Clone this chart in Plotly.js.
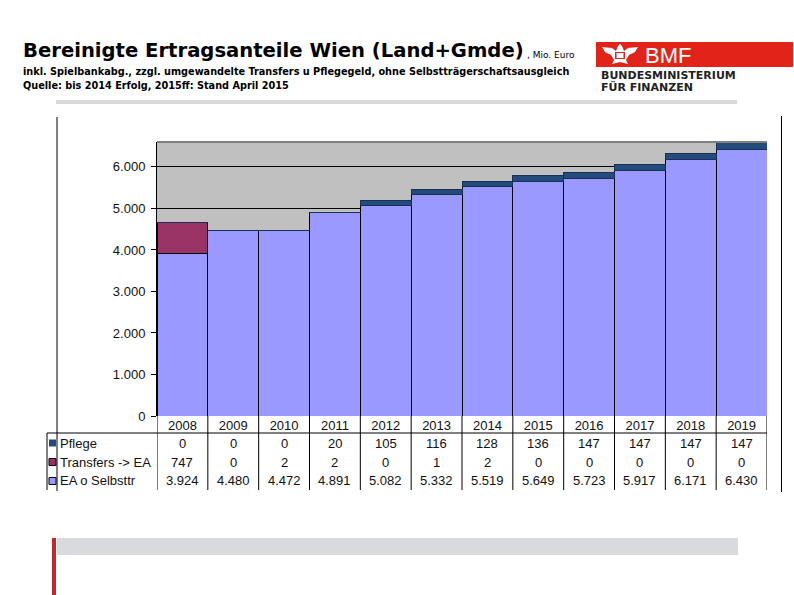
<!DOCTYPE html>
<html>
<head>
<meta charset="utf-8">
<script src="https://cdn.plot.ly/plotly-3.0.1.min.js"></script>
<style>
html,body{margin:0;padding:0;background:#fff;}
#chart{width:794px;height:595px;}
</style>
</head>
<body>
<div id="chart"></div>
<script>
// ---- data ----
const years = ['2008','2009','2010','2011','2012','2013','2014','2015','2016','2017','2018','2019'];
const pflege = [0, 0, 0, 20, 105, 116, 128, 136, 147, 147, 147, 147];
const transfers = [747, 0, 2, 2, 0, 1, 2, 0, 0, 0, 0, 0];
const eaSelbsttr = [3924, 4480, 4472, 4891, 5082, 5332, 5519, 5649, 5723, 5917, 6171, 6430];
const rowLabels = ['Pflege', 'Transfers -> EA', 'EA o Selbsttr'];
const yTickVals = [0, 1000, 2000, 3000, 4000, 5000, 6000];

// ---- styles ----
const colEA = '#9999FF', colTr = '#993366', colPf = '#234B7C';
const W = 794, H = 595;
const L = 157, R = 767, T = 142, B = 416;
const px = x => (x - L) / (R - L);
const py = y => (B - y) / (B - T);

function fmt(v){
  const s = String(Math.abs(v));
  return (v<0?'-':'') + s.replace(/\B(?=(\d{3})+(?!\d))/g, '.');
}

const barLine = {color:'#000', width:1};
const traces = [
  {type:'bar', name:'EA o Selbsttr', x:years, y:eaSelbsttr, marker:{color:colEA, line:barLine}},
  {type:'bar', name:'Transfers -> EA', x:years, y:transfers, marker:{color:colTr, line:barLine}},
  {type:'bar', name:'Pflege', x:years, y:pflege, marker:{color:colPf, line:{color:'#1a2f55', width:1}}}
];

const shapes = [];
const annotations = [];
const tf = {family:'Liberation Sans, Arial, sans-serif', size:13, color:'#111'};

// top light band
shapes.push({type:'rect', xref:'paper', yref:'paper', x0:px(56), x1:px(737), y0:py(100), y1:py(104), fillcolor:'#D9D9D9', line:{width:0}, layer:'below'});
// frame lines of embedded object
shapes.push({type:'line', xref:'paper', yref:'paper', x0:px(57), x1:px(57), y0:py(117), y1:py(491), line:{color:'#000', width:1}});
shapes.push({type:'line', xref:'paper', yref:'paper', x0:px(781.5), x1:px(781.5), y0:py(116), y1:py(492), line:{color:'#000', width:1}});
// plot top border
shapes.push({type:'line', xref:'paper', yref:'paper', x0:0, x1:1, y0:1, y1:1, line:{color:'#7F7F7F', width:2}});

// table grid
const tLine = {color:'#000', width:1};
shapes.push({type:'line', xref:'paper', yref:'paper', x0:px(47), x1:1, y0:py(433), y1:py(433), line:tLine});
shapes.push({type:'line', xref:'paper', yref:'paper', x0:px(47), x1:px(47), y0:py(433), y1:py(490), line:tLine});
for (let i = 0; i <= years.length; i++) {
  shapes.push({type:'line', xref:'x', yref:'paper', x0:i-0.5, x1:i-0.5, y0:0, y1:py(490), line:tLine});
}
// legend keys
const keyCols = [colPf, colTr, colEA];
const rowY = [443, 462, 481];
rowLabels.forEach((lab, r) => {
  shapes.push({type:'rect', xref:'paper', yref:'paper', x0:px(49), x1:px(56), y0:py(rowY[r]+3.5), y1:py(rowY[r]-3.5),
    fillcolor:keyCols[r], line:{color: r===0 ? keyCols[r] : '#000', width: r===0?0:1}});
  annotations.push({xref:'paper', yref:'paper', x:px(58), y:py(rowY[r]), xanchor:'left', yanchor:'middle',
    text:lab, showarrow:false, font:tf});
});
const rows = [pflege, transfers, eaSelbsttr];
rows.forEach((arr, r) => {
  arr.forEach((v, i) => {
    annotations.push({xref:'x', yref:'paper', x:i, y:py(rowY[r]), xanchor:'center', yanchor:'middle',
      text:fmt(v), showarrow:false, font:tf});
  });
});

// titles
annotations.push({xref:'paper', yref:'paper', x:px(21), y:py(51), xanchor:'left', yanchor:'middle', showarrow:false,
  text:'<b>Bereinigte Ertragsanteile Wien (Land+Gmde)</b>', font:{family:'DejaVu Sans, Verdana, sans-serif', size:19.6, color:'#000'}});
annotations.push({xref:'paper', yref:'paper', x:px(525), y:py(55), xanchor:'left', yanchor:'middle', showarrow:false,
  text:', Mio. Euro', font:{family:'DejaVu Sans, sans-serif', size:9, color:'#000'}});
annotations.push({xref:'paper', yref:'paper', x:px(21), y:py(71), xanchor:'left', yanchor:'middle', showarrow:false,
  text:'<b>inkl. Spielbankabg., zzgl. umgewandelte Transfers u Pflegegeld, ohne Selbstträgerschaftsausgleich</b>', font:{family:'DejaVu Sans Condensed, DejaVu Sans, sans-serif', size:10.8, color:'#000'}});
annotations.push({xref:'paper', yref:'paper', x:px(21), y:py(85), xanchor:'left', yanchor:'middle', showarrow:false,
  text:'<b>Quelle: bis 2014 Erfolg, 2015ff: Stand April 2015</b>', font:{family:'DejaVu Sans Condensed, DejaVu Sans, sans-serif', size:10.8, color:'#000'}});

// logo
shapes.push({type:'rect', xref:'paper', yref:'paper', x0:px(596), x1:px(793), y0:py(67), y1:py(42), fillcolor:'#E2231A', line:{width:0}});
function P(pts){ return 'M' + pts.map(p => px(p[0]) + ',' + py(p[1])).join(' L') + ' Z'; }
shapes.push({type:'path', xref:'paper', yref:'paper', fillcolor:'#fff', line:{width:0},
  path: P([[602,47],[612,48],[616,51],[618,46],[620,44],[622,46],[624,51],[628,48],[638,47],[635,52],[629,55],[626,60],[628,64],[620,62],[612,64],[614,60],[611,55],[605,52]])});
shapes.push({type:'rect', xref:'paper', yref:'paper', x0:px(615), x1:px(625), y0:py(59), y1:py(52), fillcolor:'#E2231A', line:{width:0}});
shapes.push({type:'rect', xref:'paper', yref:'paper', x0:px(616.5), x1:px(623.5), y0:py(58), y1:py(53), fillcolor:'#fff', line:{width:0}});
annotations.push({xref:'paper', yref:'paper', x:px(643), y:py(55), xanchor:'left', yanchor:'middle', showarrow:false,
  text:'BMF', font:{family:'Liberation Sans, Arial, sans-serif', size:22, color:'#fff'}});
annotations.push({xref:'paper', yref:'paper', x:px(599), y:py(76), xanchor:'left', yanchor:'middle', showarrow:false,
  text:'<b>BUNDESMINISTERIUM</b>', font:{family:'DejaVu Sans, sans-serif', size:11, color:'#222'}});
annotations.push({xref:'paper', yref:'paper', x:px(599), y:py(87), xanchor:'left', yanchor:'middle', showarrow:false,
  text:'<b>FÜR FINANZEN</b>', font:{family:'DejaVu Sans, sans-serif', size:11, color:'#222'}});

// footer
shapes.push({type:'rect', xref:'paper', yref:'paper', x0:px(57), x1:px(738), y0:py(555), y1:py(538), fillcolor:'#D9DADC', line:{width:0}});
shapes.push({type:'rect', xref:'paper', yref:'paper', x0:px(52), x1:px(56), y0:py(595), y1:py(538), fillcolor:'#C4262E', line:{width:0}});

const layout = {
  width:W, height:H,
  margin:{l:L, r:W-R, t:T, b:H-B, pad:0},
  paper_bgcolor:'#fff', plot_bgcolor:'#C0C0C0',
  barmode:'stack', bargap:0, showlegend:false,
  separators:',.',
  font:{family:'Liberation Sans, Arial, sans-serif', size:13, color:'#111'},
  xaxis:{type:'category', range:[-0.5, years.length-0.5], autorange:false, showgrid:false, showline:false, ticks:'', tickfont:{size:13, color:'#111'}, fixedrange:true, zeroline:false},
  yaxis:{range:[0,6600], autorange:false, tickvals:yTickVals, tickformat:',d', showgrid:true, gridcolor:'#000', gridwidth:1,
    showline:true, linecolor:'#000', linewidth:1, ticks:'outside', ticklen:5, tickcolor:'#000', ticklabelstandoff:3,
    tickfont:{size:13, color:'#111'}, zeroline:false},
  shapes:shapes, annotations:annotations
};
Plotly.newPlot('chart', traces, layout, {displayModeBar:false, staticPlot:true});
</script>
</body>
</html>
